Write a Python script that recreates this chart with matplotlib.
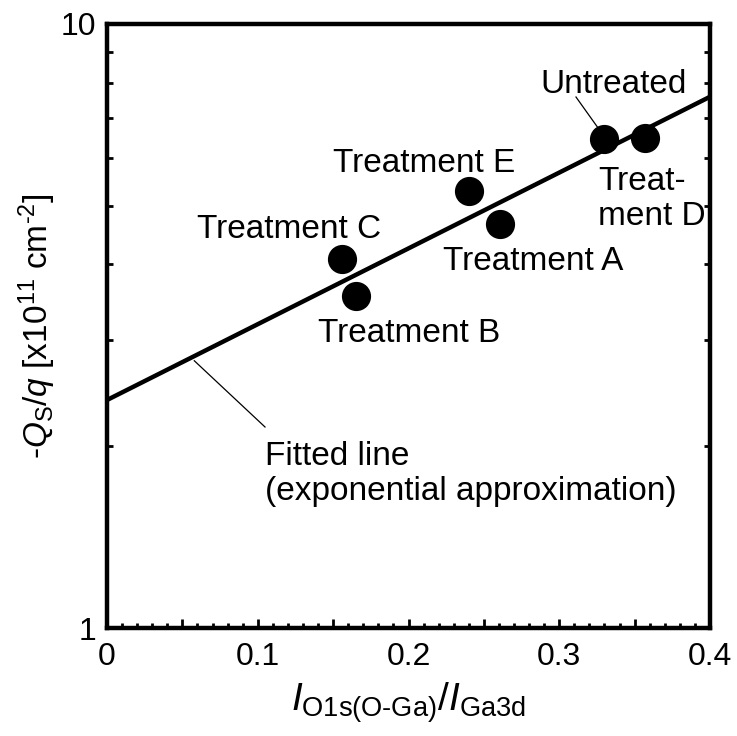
import numpy as np
import matplotlib
matplotlib.use("Agg")
import matplotlib.pyplot as plt
from matplotlib.ticker import MultipleLocator, FuncFormatter, LogLocator, NullFormatter

plt.rcParams['font.family'] = ['Liberation Sans', 'DejaVu Sans']
plt.rcParams['mathtext.fontset'] = 'custom'
plt.rcParams['mathtext.rm'] = 'Liberation Sans'
plt.rcParams['mathtext.it'] = 'Liberation Sans:italic'

# XPS intensity ratio vs. surface charge for each sample
samples = ["Treatment C", "Treatment B", "Treatment E", "Treatment A", "Untreated", "Treatment D"]
ratio = [0.156, 0.165, 0.240, 0.261, 0.330, 0.357]
charge = [4.08, 3.54, 5.30, 4.67, 6.44, 6.47]

# exponential fit: Qs/q = a * exp(b * ratio)
fit_a = 2.385
fit_b = 2.89

fig = plt.figure(figsize=(7.37, 7.36), dpi=100)
ax = fig.add_axes([0.1452, 0.1467, 0.8182, 0.8207])

xs = np.linspace(0, 0.4, 200)
ax.plot(xs, fit_a * np.exp(fit_b * xs), color='black', lw=3.2, zorder=2)
ax.plot(ratio, charge, 'o', color='black', markersize=20, zorder=3)

ax.set_yscale('log')
ax.set_xlim(0, 0.4)
ax.set_ylim(1, 10)

# labels next to the points
fs = 24
ax.text(0.2872, 7.69, "Untreated", fontsize=fs, va='baseline')
ax.text(0.1499, 5.69, "Treatment E", fontsize=fs, va='baseline')
ax.text(0.0597, 4.42, "Treatment C", fontsize=fs, va='baseline')
ax.text(0.2229, 3.91, "Treatment A", fontsize=fs, va='baseline')
ax.text(0.140, 2.975, "Treatment B", fontsize=fs, va='baseline')
ax.text(0.3257, 4.65, "Treat-\nment D", fontsize=fs, va='baseline', linespacing=1.15)
ax.text(0.1048, 1.629, "Fitted line\n(exponential approximation)", fontsize=fs,
        va='baseline', linespacing=1.15)

# leader lines
ax.plot([0.3111, 0.3257], [7.57, 6.73], color='black', lw=0.9)
ax.plot([0.0579, 0.1048], [2.77, 2.152], color='black', lw=0.9)

# ticks
ax.xaxis.set_major_locator(MultipleLocator(0.05))
ax.xaxis.set_minor_locator(MultipleLocator(0.01))
ax.xaxis.set_major_formatter(FuncFormatter(
    lambda v, p: ("0" if abs(v) < 1e-9 else f"{v:.1f}") if abs(round(v * 10) - v * 10) < 1e-6 else ""))
ax.yaxis.set_major_locator(LogLocator(base=10, numticks=5))
ax.yaxis.set_minor_locator(LogLocator(base=10, subs=np.arange(2, 10), numticks=10))
ax.yaxis.set_minor_formatter(NullFormatter())
ax.yaxis.set_major_formatter(FuncFormatter(lambda v, p: f"{v:g}"))

ax.tick_params(axis='x', which='both', direction='in', top=False, labelsize=23, pad=10)
ax.tick_params(axis='x', which='major', length=6.5, width=2)
ax.tick_params(axis='x', which='minor', length=3.5, width=2)
ax.tick_params(axis='y', which='both', direction='in', left=True, right=True, labelsize=23, pad=8)
ax.tick_params(axis='y', which='major', length=6, width=2)
ax.tick_params(axis='y', which='minor', length=4.5, width=2)

for s in ax.spines.values():
    s.set_linewidth(3.2)

ax.set_xlabel(r'$\mathit{I}_\mathrm{O1s(O\text{-}Ga)}$/$\mathit{I}_\mathrm{Ga3d}$', fontsize=28, labelpad=6)
ax.set_ylabel(r'-$\mathit{Q}_\mathrm{S}$/$\mathit{q}$ [x10$^{11}$ cm$^{\text{-}2}$]', fontsize=24, labelpad=2)

plt.savefig("out.png", dpi=100)
